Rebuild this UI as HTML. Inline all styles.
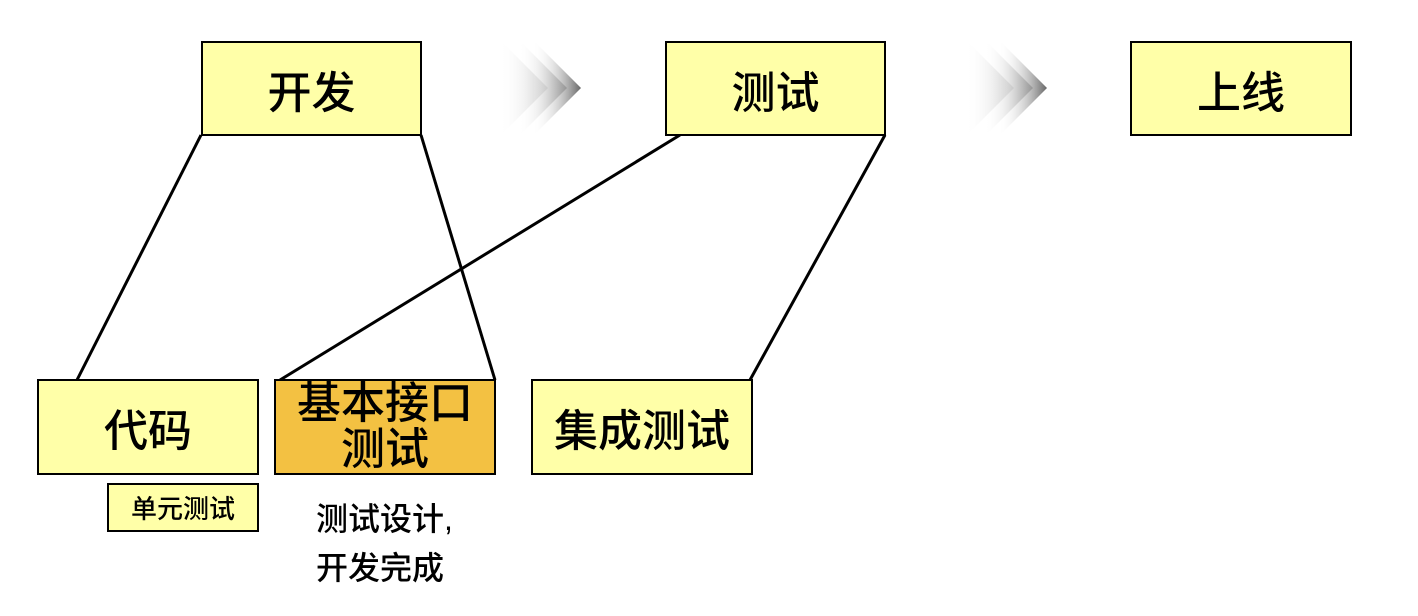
<!DOCTYPE html>
<html><head><meta charset="utf-8"><style>
body{margin:0;width:1418px;height:616px;background:#fff;overflow:hidden;position:relative;font-family:"Liberation Sans","Noto Sans CJK SC",sans-serif;}
.b{position:absolute;box-sizing:border-box;border:2px solid #000;background:#FFFFA8;display:flex;align-items:center;justify-content:center;text-align:center;font-size:44px;color:#000;font-weight:500;}
.t{position:absolute;font-size:32px;color:#000;font-weight:500;}
</style></head><body>
<svg width="1418" height="616" style="position:absolute;left:0;top:0">
<defs>
<linearGradient id="g" x1="0" x2="1" y1="0" y2="0"><stop offset="0" stop-color="#fff" stop-opacity="0"/><stop offset="1" stop-color="#666"/></linearGradient>
<linearGradient id="g2" x1="0" x2="1" y1="0" y2="0"><stop offset="0" stop-color="#fff" stop-opacity="0"/><stop offset="1" stop-color="#999"/></linearGradient>
<linearGradient id="g3" x1="0" x2="1" y1="0" y2="0"><stop offset="0" stop-color="#fff" stop-opacity="0"/><stop offset="1" stop-color="#ccc"/></linearGradient>
</defs>
<g id="ar">
<polygon points="500,40 548,88 500,136" fill="url(#g3)"/>
<polygon points="519,40 567,88 519,136" fill="url(#g2)"/>
<polygon points="533,40 581,88 533,136" fill="url(#g)"/>
</g>
<use href="#ar" x="466"/>
<g stroke="#000" stroke-width="3">
<line x1="201" y1="135" x2="77" y2="380"/>
<line x1="421" y1="135" x2="495" y2="380"/>
<line x1="680" y1="135" x2="280" y2="380"/>
<line x1="885" y1="135" x2="750" y2="380"/>
</g>
</svg>
<div class="b" style="left:201px;top:41px;width:221px;height:95px">开发</div>
<div class="b" style="left:665px;top:41px;width:221px;height:95px">测试</div>
<div class="b" style="left:1130px;top:41px;width:222px;height:95px">上线</div>
<div class="b" style="left:37px;top:379px;width:222px;height:96px">代码</div>
<div class="b" style="left:274px;top:379px;width:222px;height:96px;background:#F3C142;line-height:46px;align-items:flex-start;padding-top:0">基本接口<br>测试</div>
<div class="b" style="left:531px;top:379px;width:222px;height:96px">集成测试</div>
<div class="b" style="left:107px;top:483px;width:152px;height:49px;font-size:26px">单元测试</div>
<div class="t" style="left:316px;top:494px">测试设计,</div>
<div class="t" style="left:316px;top:543px">开发完成</div>
</body></html>
